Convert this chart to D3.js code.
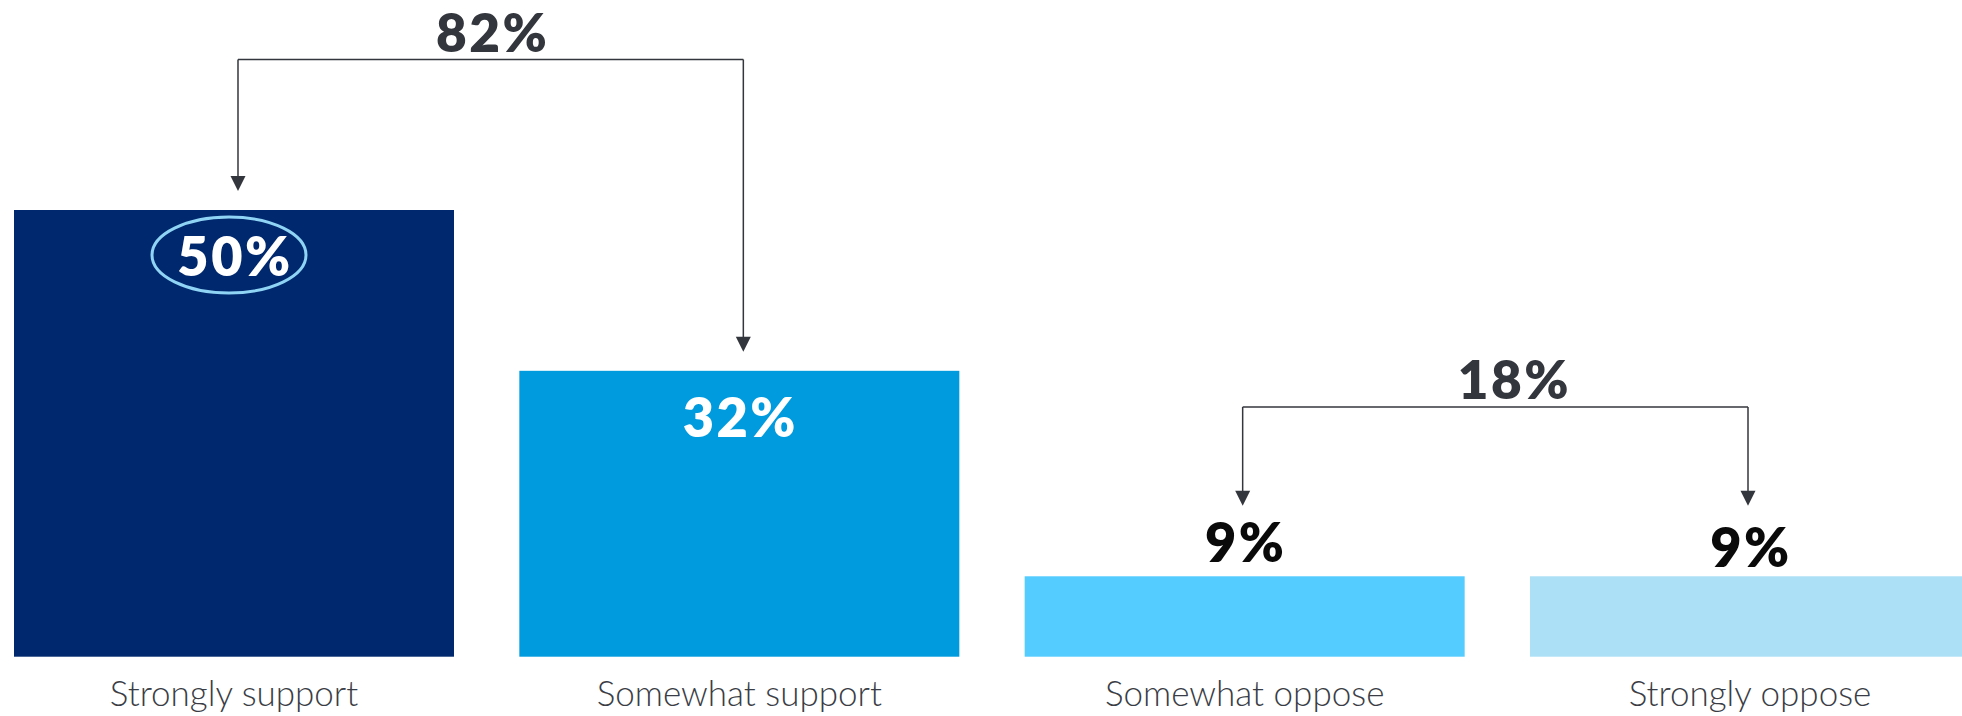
<!DOCTYPE html>
<html>
<head>
<meta charset="utf-8">
<script src="https://cdn.jsdelivr.net/npm/d3@7"></script>
<style>
  html, body { margin: 0; padding: 0; background: #fff; }
  svg { display: block; }
</style>
</head>
<body>
<svg id="chart" width="1962" height="716"></svg>
<script>
// Survey responses
const categories = ["Strongly support", "Somewhat support", "Somewhat oppose", "Strongly oppose"];
const values = [50, 32, 9, 9];
const barColors = ["#00286e", "#009bde", "#54ccff", "#abe0f7"];
// Grouped totals shown above the brackets
const groupLabels = ["82%", "18%"];
const groupMembers = [[0, 1], [2, 3]];

const svg = d3.select("#chart");

const x = d3.scaleBand()
  .domain(categories)
  .range([14, 1970])
  .paddingInner(0.1293)
  .paddingOuter(0);

const y = d3.scaleLinear()
  .domain([0, 50])
  .range([656.7, 210]);

const numFont = "Lato, 'Open Sans', sans-serif";
const cx = d => x(d) + x.bandwidth() / 2;

// Bars
svg.append("g").selectAll("rect")
  .data(categories)
  .join("rect")
  .attr("x", d => x(d))
  .attr("y", (d, i) => y(values[i]))
  .attr("width", x.bandwidth())
  .attr("height", (d, i) => y(0) - y(values[i]))
  .attr("fill", (d, i) => barColors[i]);

// Value labels: inside tall bars, above short bars
const labels = svg.append("g");
categories.forEach((c, i) => {
  const inside = values[i] > 20;
  labels.append("text")
    .attr("x", cx(c) + 1)
    .attr("y", inside ? y(values[i]) + 66 : y(values[i]) - 14 + (i === 3 ? 5 : 0))
    .attr("text-anchor", "middle")
    .attr("font-family", numFont)
    .attr("font-weight", 800)
    .attr("font-size", 54)
    .attr("letter-spacing", 2.5)
    .attr("fill", inside ? "#ffffff" : "#0a0a0a")
    .text(values[i] + "%");
});

// Highlight ring around the largest share
const lead = categories[0];
svg.append("ellipse")
  .attr("cx", cx(lead) - 5)
  .attr("cy", y(values[0]) + 45)
  .attr("rx", 77)
  .attr("ry", 38)
  .attr("fill", "none")
  .attr("stroke", "#8fd4f4")
  .attr("stroke-width", 3);

// Category labels
svg.append("g").selectAll("text")
  .data(categories)
  .join("text")
  .attr("x", d => cx(d))
  .attr("y", 706)
  .attr("text-anchor", "middle")
  .attr("font-family", numFont)
  .attr("font-weight", 300)
  .attr("font-size", 35)
  .attr("fill", "#3a3d45")
  .text(d => d);

// Bracket connectors with arrowheads
const bracketColor = "#33363d";
const bracketY = [59.5, 407];
const bracketShift = [4, -2];
const totalShift = [2, 19];
groupMembers.forEach((members, g) => {
  const xs = members.map(i => cx(categories[i]) + bracketShift[g]);
  const by = bracketY[g];
  const grp = svg.append("g");
  members.forEach((m, k) => {
    const ax = xs[k];
    // arrow tip: just above the bar for the support group, above the value label for the oppose group
    const ty = g === 0 ? y(values[m]) - 19 : y(values[m]) - 70.5;
    grp.append("line")
      .attr("x1", ax).attr("x2", ax)
      .attr("y1", by).attr("y2", ty - 14)
      .attr("stroke", bracketColor).attr("stroke-width", 1.5);
    grp.append("path")
      .attr("d", `M${ax - 7.5},${ty - 15} L${ax + 7.5},${ty - 15} L${ax},${ty} Z`)
      .attr("fill", bracketColor);
  });
  grp.append("line")
    .attr("x1", xs[0]).attr("x2", xs[1])
    .attr("y1", by).attr("y2", by)
    .attr("stroke", bracketColor).attr("stroke-width", 1.5);
  grp.append("text")
    .attr("x", (xs[0] + xs[1]) / 2 + totalShift[g])
    .attr("y", by - 8)
    .attr("text-anchor", "middle")
    .attr("font-family", numFont)
    .attr("font-weight", 800)
    .attr("font-size", 53)
    .attr("letter-spacing", 2.5)
    .attr("fill", bracketColor)
    .text(groupLabels[g]);
});
</script>
</body>
</html>
